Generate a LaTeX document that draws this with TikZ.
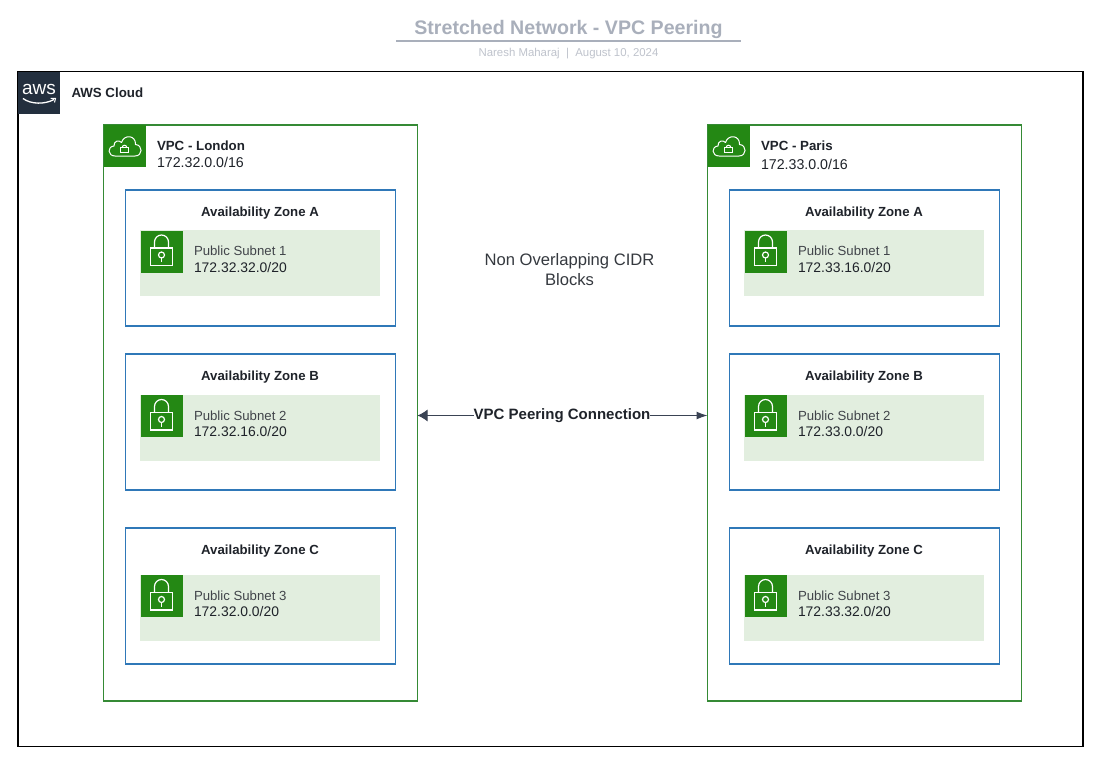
\documentclass[tikz,border=0pt]{standalone}
\usepackage{fontspec}
\setmainfont{Liberation Sans}
\usetikzlibrary{arrows.meta}
\definecolor{awsnavy}{HTML}{232F3E}
\definecolor{vpcgreen}{HTML}{248814}
\definecolor{vpcline}{HTML}{358A35}
\definecolor{azblue}{HTML}{2F78B8}
\definecolor{subfill}{HTML}{E2EEDF}
\definecolor{inktext}{HTML}{1F232A}
\definecolor{arrowink}{HTML}{3A4354}
\definecolor{titleink}{HTML}{A9AFBB}
\definecolor{subink}{HTML}{BFC3CC}
\newcommand{\fs}[1]{\fontsize{#1}{#1}\selectfont}
\tikzset{
  x=1pt,y=-1pt,
  box/.style={draw,inner sep=0pt,outer sep=0pt,fill=white},
  cloudbox/.style={box,draw=black,line width=1.2pt},
  vpcbox/.style={box,draw=vpcline,line width=1.7pt},
  azbox/.style={box,draw=azblue,line width=1.5pt},
  subnetbox/.style={inner sep=0pt,outer sep=0pt,fill=subfill},
  greenicon/.style={inner sep=0pt,outer sep=0pt,fill=vpcgreen,minimum width=42pt,minimum height=42pt},
  iconline/.style={draw=white,line width=1.2pt,fill=none},
  lbl/.style={inner sep=0pt,outer sep=0pt,text=inktext,anchor=west,align=left},
  ztitle/.style={inner sep=0pt,text=inktext,font=\fs{13.2}\bfseries},
  peer/.style={draw=arrowink,line width=1pt,{Latex[length=10pt,width=12pt]}-{Latex[length=11pt,width=8pt]}}
}
% \azone{name}{xoff}{top}{bottom}{subtop}{subbot}{title}{subnet}{cidr}
\newcommand{\azone}[9]{%
  \node[azbox,minimum width=270pt,minimum height={#4pt-#3pt},anchor=north west] (#1az) at (125.3+#2,#3.2) {};
  \node[ztitle] (#1t) at (260+#2,#3+23) {#7};
  \node[subnetbox,minimum width=240pt,minimum height={#6pt-#5pt},anchor=north west] (#1s) at (140.3+#2,#5) {};
  \node[greenicon,anchor=north west] (#1i) at (141+#2,#5+0.5) {};
  \draw[iconline] (150.5+#2,#5+18) rectangle (172.5+#2,#5+35.5);
  \draw[iconline] (154.5+#2,#5+18) -- (154.5+#2,#5+12) arc[start angle=180,end angle=0,radius=7pt] -- (168.5+#2,#5+18);
  \draw[iconline] (161.5+#2,#5+25) circle[radius=3pt];
  \draw[iconline] (161.5+#2,#5+28) -- (161.5+#2,#5+32);
  \node[lbl,text=inktext!85!white,font=\fs{13.2}] (#1n) at (194+#2,#5+21) {#8};
  \node[lbl,font=\fs{13.9}] (#1c) at (194+#2,#5+37.5) {#9};
}
% \vpcicon{name}{xoff}
\newcommand{\vpcicon}[2]{%
  \node[greenicon,anchor=north west] (#1i) at (104+#2,125) {};
  \draw[iconline,line width=1pt,line join=round] (115+#2,156) .. controls (107.5+#2,156) and (107+#2,146.5) .. (114+#2,146) .. controls (113.5+#2,141) and (119+#2,139.5) .. (121.5+#2,142.5) .. controls (124+#2,134) and (136+#2,135) .. (135.5+#2,144.5) .. controls (143+#2,145) and (143+#2,156) .. (135+#2,156) -- cycle;
  \draw[iconline,line width=1pt] (120.5+#2,147.5) rectangle (128.5+#2,152.5);
  \draw[iconline,line width=1pt] (122.2+#2,147.5) arc[start angle=180,end angle=0,radius=2.3pt];
}
\begin{document}
\begin{tikzpicture}
\useasboundingbox (0,0) rectangle (1113,765);
\fill[white] (0,0) rectangle (1113,765);
% title
\node[inner sep=0pt,text=titleink,font=\fs{19.6}\bfseries] (title) at (568.5,29.5) {Stretched Network - VPC Peering};
\coordinate (ruleL) at (396,41);
\coordinate (ruleR) at (741,41);
\draw[draw=titleink,line width=1.3pt] (ruleL) -- (ruleR);
\node[inner sep=0pt,text=subink,font=\fs{11.4}] (subtitle) at (568.5,53.5) {Naresh Maharaj\ \ |\ \ August 10, 2024};
% cloud
\node[cloudbox,minimum width=1065pt,minimum height=675pt,anchor=north west] (cloud) at (18,71.5) {};
\node[fill=awsnavy,inner sep=0pt,outer sep=0pt,minimum width=42pt,minimum height=42pt,anchor=north west] (awslogo) at (18,72) {};
\node[inner sep=0pt,text=white,font=\fs{19}] (awstext) at (39,89) {aws};
\draw[draw=white,line width=1.3pt] (23,98.5) .. controls (31,104.5) and (45,104.5) .. (54,99.5);
\draw[draw=white,line width=1pt] (50.5,98.5) -- (55.5,98.5) -- (54.5,102.5);
\node[lbl,font=\fs{13.3}\bfseries] (cloudlabel) at (71.5,92.5) {AWS Cloud};
% VPCs
\node[vpcbox,minimum width=314pt,minimum height=576pt,anchor=north west] (london) at (103.5,125) {};
\vpcicon{lon}{0}
\node[lbl,font=\fs{13.3}\bfseries] (lonname) at (157,146) {VPC - London};
\node[lbl,font=\fs{14.2}] (loncidr) at (157,162.5) {172.32.0.0/16};
\node[vpcbox,minimum width=314pt,minimum height=576pt,anchor=north west] (paris) at (707.5,125) {};
\vpcicon{par}{604}
\node[lbl,font=\fs{13.3}\bfseries] (parname) at (761,146) {VPC - Paris};
\node[lbl,font=\fs{14.2}] (parcidr) at (761,164.5) {172.33.0.0/16};
% zones
\azone{la}{0}{190}{326}{230}{296}{Availability Zone A}{Public Subnet 1}{172.32.32.0/20}
\azone{lb}{0}{354}{490}{394.5}{461}{Availability Zone B}{Public Subnet 2}{172.32.16.0/20}
\azone{lc}{0}{528}{664}{574.5}{640.5}{Availability Zone C}{Public Subnet 3}{172.32.0.0/20}
\azone{pa}{604}{190}{326}{230}{296}{Availability Zone A}{Public Subnet 1}{172.33.16.0/20}
\azone{pb}{604}{354}{490}{394.5}{461}{Availability Zone B}{Public Subnet 2}{172.33.0.0/20}
\azone{pc}{604}{528}{664}{574.5}{640.5}{Availability Zone C}{Public Subnet 3}{172.33.32.0/20}
% centre
\node[inner sep=0pt,text=inktext!90!white,font=\fs{16.6},align=center] (note) at (569.5,269.5) {Non Overlapping CIDR\\[3.5pt]Blocks};
\coordinate (peerY) at (0,415.5);
\coordinate (peerL) at (london.east |- peerY);
\coordinate (peerR) at (paris.west |- peerY);
\draw[peer] (peerL) -- (peerR);
\node[fill=white,inner sep=0pt,text=inktext,font=\fs{15}\bfseries] (peerlabel) at (562,415.5) {VPC Peering Connection};
\end{tikzpicture}
\end{document}
